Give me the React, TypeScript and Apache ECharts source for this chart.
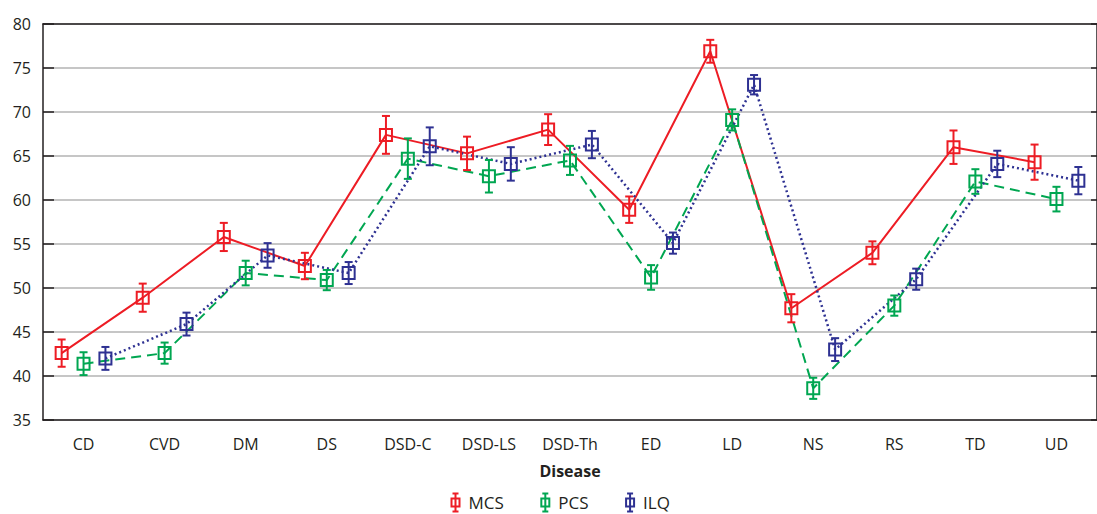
import React, { useEffect, useRef } from "react";
import * as echarts from "echarts";

const categories = ["CD", "CVD", "DM", "DS", "DSD-C", "DSD-LS", "DSD-Th", "ED", "LD", "NS", "RS", "TD", "UD"];
const mcsMean = [42.6, 48.9, 55.8, 52.5, 67.4, 65.3, 68.0, 58.9, 76.9, 47.7, 54.0, 66.0, 64.3];
const mcsErr = [1.55, 1.6, 1.6, 1.5, 2.15, 1.9, 1.75, 1.5, 1.3, 1.6, 1.3, 1.9, 2.0];
const pcsMean = [41.4, 42.6, 51.7, 50.9, 64.7, 62.7, 64.5, 51.2, 69.1, 38.6, 48.0, 62.1, 60.1];
const pcsErr = [1.3, 1.2, 1.4, 1.15, 2.3, 1.85, 1.65, 1.4, 1.2, 1.2, 1.15, 1.4, 1.4];
const ilqMean = [42.0, 45.9, 53.7, 51.7, 66.1, 64.1, 66.3, 55.1, 73.1, 43.0, 51.0, 64.1, 62.2];
const ilqErr = [1.3, 1.3, 1.4, 1.25, 2.15, 1.9, 1.55, 1.2, 1.1, 1.3, 1.2, 1.5, 1.55];
const yTicks = { min: 35, max: 80, interval: 5 };

const FONT = "'Open Sans', 'Noto Sans', sans-serif";
const TEXT = "#231f20";

type Def = { name: string; mean: number[]; err: number[]; color: string; dash: any; width: number; offset: number };
const defs: Def[] = [
  { name: "MCS", mean: mcsMean, err: mcsErr, color: "#ed1c24", dash: "solid", width: 2, offset: -0.27 },
  { name: "PCS", mean: pcsMean, err: pcsErr, color: "#00a651", dash: [10, 6], width: 2, offset: 0 },
  { name: "ILQ", mean: ilqMean, err: ilqErr, color: "#2e3192", dash: [2, 3], width: 2.5, offset: 0.27 },
];

const legendIcon = "path://M6,0L6,18M3,0L9,0M3,18L9,18M2,5L10,5L10,13L2,13Z";

export default function App() {
  const ref = useRef<HTMLDivElement>(null);
  useEffect(() => {
    if (!ref.current) return;
    const chart = echarts.init(ref.current, undefined, { renderer: "svg" });
    const series: any[] = [];
    defs.forEach((d) => {
      const pts = d.mean.map((v, i) => [i + d.offset, v, d.err[i]]);
      series.push({
        type: "line",
        name: d.name,
        xAxisIndex: 2,
        yAxisIndex: 0,
        data: pts.map((p) => [p[0], p[1]]),
        symbol: "none",
        lineStyle: { color: d.color, width: d.width, type: d.dash },
        itemStyle: { color: d.color },
        z: 2,
      });
      series.push({
        type: "custom",
        name: d.name,
        xAxisIndex: 2,
        yAxisIndex: 0,
        data: pts,
        encode: { x: 0, y: 1 },
        z: 3,
        renderItem: (params: any, api: any) => {
          const x = api.value(0);
          const y = api.value(1);
          const e = api.value(2);
          const c = api.coord([x, y]);
          const hi = api.coord([x, y + e]);
          const lo = api.coord([x, y - e]);
          const cap = 4;
          const half = 6;
          const st = { stroke: d.color, lineWidth: 2, fill: "none" };
          return {
            type: "group",
            children: [
              { type: "line", shape: { x1: c[0], y1: hi[1], x2: c[0], y2: lo[1] }, style: st },
              { type: "line", shape: { x1: c[0] - cap, y1: hi[1], x2: c[0] + cap, y2: hi[1] }, style: st },
              { type: "line", shape: { x1: c[0] - cap, y1: lo[1], x2: c[0] + cap, y2: lo[1] }, style: st },
              { type: "rect", shape: { x: c[0] - half, y: c[1] - half, width: half * 2, height: half * 2 }, style: st },
            ],
          };
        },
      });
    });

    chart.setOption({
      animation: false,
      backgroundColor: "#fff",
      textStyle: { fontFamily: FONT },
      grid: { left: 43, top: 24, width: 1064, height: 396, containLabel: false },
      legend: {
        left: 449,
        top: 491,
        padding: 0,
        itemWidth: 12,
        itemHeight: 18,
        itemGap: 35,
        icon: legendIcon,
        textStyle: { fontSize: 17, color: TEXT, fontFamily: FONT, padding: [0, 0, 0, 2] },
        data: defs.map((d) => ({
          name: d.name,
          itemStyle: { color: "none", borderColor: d.color, borderWidth: 2 },
        })),
      },
      xAxis: [
        {
          type: "category",
          position: "bottom",
          data: categories,
          boundaryGap: true,
          axisLine: { lineStyle: { color: TEXT, width: 1.5 } },
          axisTick: { inside: true, alignWithLabel: true, length: 7, lineStyle: { color: TEXT, width: 1.5 } },
          axisLabel: { margin: 16, fontSize: 16, color: TEXT, fontFamily: FONT, interval: 0 },
          name: "Disease",
          nameLocation: "middle",
          nameGap: 43,
          nameTextStyle: { fontSize: 16, fontWeight: "bold", color: TEXT, fontFamily: FONT },
          splitLine: { show: false },
        },
        {
          type: "category",
          position: "top",
          data: categories,
          boundaryGap: true,
          axisLine: { lineStyle: { color: TEXT, width: 1.5 } },
          axisTick: { inside: true, alignWithLabel: true, length: 7, lineStyle: { color: TEXT, width: 1.5 } },
          axisLabel: { show: false },
          splitLine: { show: false },
        },
        {
          type: "value",
          min: -0.5,
          max: categories.length - 0.5,
          show: false,
          axisLine: { onZero: false },
          splitLine: { show: false },
        },
      ],
      yAxis: [
        {
          type: "value",
          position: "left",
          min: yTicks.min,
          max: yTicks.max,
          interval: yTicks.interval,
          axisLine: { show: true, onZero: false, lineStyle: { color: TEXT, width: 1.5 } },
          axisTick: { show: true, inside: true, length: 11, lineStyle: { color: TEXT, width: 1.5 } },
          axisLabel: { margin: 12, fontSize: 16, color: TEXT, fontFamily: FONT },
          splitLine: { show: true, lineStyle: { color: "#b3b3b3", width: 1.5 } },
        },
        {
          type: "value",
          position: "right",
          min: yTicks.min,
          max: yTicks.max,
          interval: yTicks.interval,
          axisLine: { show: true, onZero: false, lineStyle: { color: TEXT, width: 1.5 } },
          axisTick: { show: true, inside: true, length: 6, lineStyle: { color: TEXT, width: 1.5 } },
          axisLabel: { show: false },
          splitLine: { show: false },
        },
      ],
      series,
    });
    return () => chart.dispose();
  }, []);
  return (
    <div
      ref={ref}
      style={{ position: "absolute", left: 0, top: 0, width: 1097, height: 514, overflow: "hidden" }}
    />
  );
}
